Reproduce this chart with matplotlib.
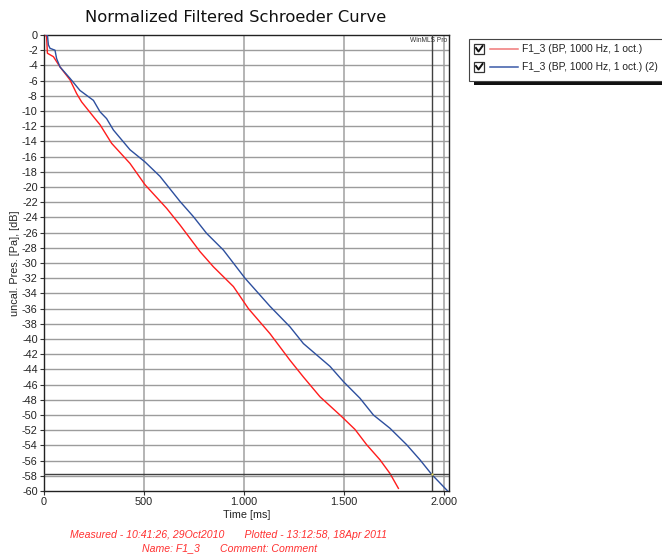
import matplotlib
matplotlib.use("Agg")
import matplotlib.pyplot as plt
from matplotlib.patches import Rectangle
from matplotlib.lines import Line2D

# Decay curves (time in ms, level in dB)
red_t = [8, 13, 17, 47, 80, 130, 163, 188, 255, 280, 338, 430, 505, 613, 680,
         780, 847, 947, 1022, 1130, 1230, 1297, 1380, 1488, 1555, 1613, 1680,
         1730, 1772]
red_db = [0, -0.2, -2.4, -2.85, -4.2, -5.9, -7.7, -8.8, -11, -11.8, -14.25,
          -16.9, -19.7, -22.8, -25, -28.5, -30.5, -33.1, -36, -39.3, -42.8,
          -45, -47.6, -50.2, -51.9, -53.9, -55.9, -57.7, -59.65]

blue_t = [12, 17, 22, 30, 55, 63, 80, 130, 180, 247, 280, 313, 347, 430, 505,
          580, 680, 747, 813, 897, 1005, 1130, 1230, 1297, 1430, 1497, 1580,
          1647, 1730, 1813, 1880, 1938, 2022]
blue_db = [0, 0, -1.3, -1.75, -2, -3.1, -4.2, -5.7, -7.3, -8.6, -10.1, -11,
           -12.5, -15.1, -16.7, -18.6, -21.9, -23.9, -26.1, -28.3, -32, -35.7,
           -38.4, -40.6, -43.6, -45.6, -47.8, -50, -51.75, -53.9, -55.9, -57.8,
           -60.1]

series_labels = ["F1_3 (BP, 1000 Hz, 1 oct.)", "F1_3 (BP, 1000 Hz, 1 oct.) (2)"]
x_ticks = [0, 500, 1000, 1500, 2000]
x_tick_labels = ["0", "500", "1.000", "1.500", "2.000"]
y_ticks = list(range(0, -61, -2))

cursor_t = 1940
cursor_db = -57.75

plt.rcParams["font.family"] = ["Liberation Sans", "DejaVu Sans"]

W, H = 662, 555
fig = plt.figure(figsize=(W / 100, H / 100), dpi=100)
fig.patch.set_facecolor("white")

ax = fig.add_axes([44 / W, 1 - 491 / H, (449 - 44) / W, (491 - 35) / H])
ax.set_xlim(0, 2025)
ax.set_ylim(-60, 0)

for x in x_ticks[1:]:
    ax.axvline(x, color="#a8a8a8", lw=1.2, zorder=1)
for y in y_ticks[1:-1]:
    ax.axhline(y, color="#9c9c9c", lw=1.0, zorder=1)

red_col = "#ff1c1c"
blue_col = "#2d4f9e"
ax.plot(red_t, red_db, color=red_col, lw=1.0, zorder=3)
ax.plot(blue_t, blue_db, color=blue_col, lw=1.0, zorder=3)

# cursor cross-hair
ax.axvline(cursor_t, color="#404040", lw=1.0, zorder=4)
ax.axhline(cursor_db, color="#404040", lw=1.0, zorder=4)
ax.plot([cursor_t], [cursor_db], marker="s", ms=1.5, color="#e8e060",
        mec="none", zorder=5)

ax.set_xticks(x_ticks)
ax.set_xticklabels(x_tick_labels)
ax.set_yticks(y_ticks)
ax.set_yticklabels([str(v) for v in y_ticks])
ax.tick_params(axis="both", labelsize=7.8, length=3, width=0.8,
               color="#333333", labelcolor="#222222", pad=1.5)
for s in ax.spines.values():
    s.set_color("#222222")
    s.set_linewidth(1.0)

ax.set_xlabel("Time [ms]", fontsize=7.8, color="#222222", labelpad=2)
ax.set_ylabel("uncal. Pres. [Pa], [dB]", fontsize=7.8, color="#222222")
ax.yaxis.set_label_coords(-24 / 405, 0.5)

ax.text(2018, -0.75, "WinMLS Pro", fontsize=4.8, ha="right", va="center",
        color="#333333", zorder=6)

fig.text(236 / W, 1 - 18 / H, "Normalized Filtered Schroeder Curve",
         fontsize=11.8, ha="center", va="center", color="#111111",
         family="DejaVu Sans")

foot_col = "#ff3030"
fig.text(229 / W, 1 - 535 / H,
         "Measured - 10:41:26, 29Oct2010       Plotted - 13:12:58, 18Apr 2011",
         fontsize=7.6, style="italic", ha="center", va="center", color=foot_col)
fig.text(230 / W, 1 - 548 / H, "Name: F1_3       Comment: Comment",
         fontsize=7.6, style="italic", ha="center", va="center", color=foot_col)

# legend panel with shadow
def px(x, y):
    return x / W, 1 - y / H

fig.patches.append(Rectangle(px(474, 85), 200 / W, 4 / H, transform=fig.transFigure,
                             facecolor="#111111", edgecolor="none"))
fig.patches.append(Rectangle(px(469, 81), 200 / W, 42 / H, transform=fig.transFigure,
                             facecolor="white", edgecolor="#444444", lw=0.8))

legend_cols = ["#f07878", "#3a5aa8"]
for i, (lab, col) in enumerate(zip(series_labels, legend_cols)):
    yc = 49 + i * 18
    fig.patches.append(Rectangle(px(474, yc + 5), 10 / W, 10 / H,
                                 transform=fig.transFigure, facecolor="white",
                                 edgecolor="#333333", lw=0.9))
    cx, cy = zip(px(476, yc - 1), px(478.5, yc + 2.5), px(482.5, yc - 3))
    fig.lines.append(Line2D(cx, cy, transform=fig.transFigure, color="#111111",
                            lw=1.4))
    lx, ly = zip(px(490, yc), px(518, yc))
    fig.lines.append(Line2D(lx, ly, transform=fig.transFigure, color=col, lw=1.1))
    fig.text(522 / W, 1 - yc / H, lab, fontsize=7.4, ha="left", va="center",
             color="#222222")

fig.savefig("out.png", dpi=100)
